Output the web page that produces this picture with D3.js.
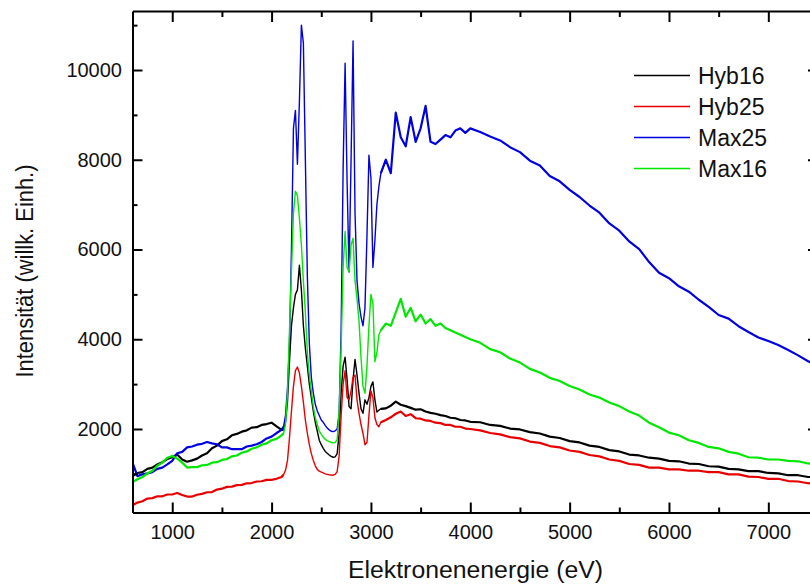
<!DOCTYPE html>
<html><head><meta charset="utf-8">
<script src="https://cdn.jsdelivr.net/npm/d3@7"></script>
<style>
body{margin:0;background:#fff}
svg{display:block}
text{font-family:Arial,"Liberation Sans",sans-serif;fill:#111}
</style>
</head><body>
<svg id="chart" width="810" height="586"></svg>
<script>
// Electron energy (eV)
const energy = [
 600,650,700,750,800,850,900,950,1000,1050,1100,1150,1200,1250,1300,1350,1400,1450,1500,1550,1600,1650,1700,1750,1800,1850,1900,1950,2000,2050,2100,
 2120,2140,2160,2180,2200,2220,2240,2260,2280,2300,2320,2340,2360,2380,2400,2420,2440,2460,2480,2500,2520,2540,2560,2580,2600,2620,2640,2660,2680,2700,2720,2740,2760,2780,2800,2820,2840,2860,2880,2900,2920,2940,2960,2980,3000,3020,3040,3060,3080,3100,
 3150,3200,3250,3300,3350,3400,3450,3500,3550,3600,3650,3700,3750,3800,3850,3900,3950,4000,
 4100,4200,4300,4400,4500,4600,4700,4800,4900,5000,5100,5200,5300,5400,5500,5600,5700,5800,5900,6000,6100,6200,6300,6400,6500,6600,6700,6800,6900,7000,7100,7200,7300,7400,7500
];
const hyb16 = [
 950,1020,1040,1110,1140,1210,1260,1330,1370,1430,1320,1270,1300,1340,1410,1460,1570,1630,1730,1770,1860,1890,1940,1970,2030,2040,2090,2110,2140,2060,1980,
 1980,2150,2600,3500,4300,4700,5000,5100,5650,5100,4300,3800,3400,3000,2700,2400,2150,1950,1750,1650,1570,1500,1460,1420,1390,1370,1380,1450,1900,2800,3400,3600,3100,2500,2450,3100,3550,3200,2800,2450,2350,2650,2550,2700,2950,3050,2650,2380,2420,2450,
 2460,2520,2610,2540,2510,2470,2430,2440,2390,2360,2340,2310,2290,2250,2240,2200,2190,2160,
 2150,2090,2070,2010,1990,1930,1900,1830,1800,1730,1700,1630,1600,1530,1500,1430,1410,1360,1340,1290,1280,1230,1220,1170,1160,1110,1100,1060,1060,1020,1010,970,970,930,930
];
const hyb25 = [
 300,360,390,450,460,500,500,540,540,575,530,495,495,535,555,590,595,650,670,710,715,750,755,790,795,830,835,865,865,890,930,
 980,1080,1300,1800,2400,2950,3300,3380,3250,2950,2600,2200,1900,1650,1450,1300,1180,1100,1060,1040,1020,1000,990,980,975,970,990,1050,1400,2300,3000,3300,2700,2650,2850,3150,3200,2650,2350,2100,1900,1650,1700,2300,2850,2700,2250,2100,2050,2150,
 2200,2260,2340,2390,2290,2330,2240,2230,2190,2180,2140,2130,2090,2090,2050,2050,2010,2000,
 1970,1910,1880,1820,1790,1720,1690,1620,1590,1520,1490,1420,1390,1320,1290,1220,1200,1140,1140,1100,1100,1070,1070,1040,1040,990,990,940,930,890,890,840,830,790,800
];
const max25 = [
 1250,950,990,1010,1040,1110,1140,1210,1290,1460,1490,1590,1610,1650,1670,1710,1680,1660,1590,1590,1550,1550,1550,1610,1630,1660,1710,1790,1830,1910,1980,
 2050,2300,2900,3900,6000,8700,9100,7900,9300,11000,10600,8000,5400,3900,3150,2800,2550,2400,2300,2200,2150,2080,2020,1980,1950,1940,1960,2000,2350,4200,7800,10150,7500,5500,8000,10650,6800,5300,4800,4500,4300,4700,6300,8100,7600,5600,6200,7000,7400,7700,
 8000,7700,9050,8500,8300,8950,8400,8700,9200,8400,8350,8450,8550,8500,8650,8700,8600,8700,
 8620,8520,8430,8280,8170,7980,7870,7640,7520,7330,7170,6980,6820,6580,6420,6180,6010,5720,5480,5360,5180,5060,4880,4720,4540,4460,4290,4160,4040,3960,3870,3760,3640,3510,3420
];
const max16 = [
 820,880,930,1010,1070,1180,1250,1360,1400,1340,1250,1140,1150,1150,1190,1200,1250,1260,1310,1330,1390,1410,1470,1500,1560,1590,1650,1680,1750,1780,1860,
 1900,2100,2800,4200,5500,6800,7300,7200,6700,6100,5300,4600,3700,3200,2850,2500,2250,2100,1950,1880,1820,1770,1740,1720,1700,1690,1700,1760,2400,3800,5600,6400,5600,5500,6100,6250,5300,4900,4400,3600,2950,2800,3400,4300,5000,4800,3500,3700,4100,4200,
 4350,4300,4600,4900,4500,4700,4400,4550,4350,4450,4300,4350,4250,4200,4150,4100,4050,4000,
 3920,3780,3710,3570,3480,3340,3260,3140,3070,2960,2880,2770,2700,2590,2510,2390,2300,2140,2040,1920,1860,1750,1690,1600,1570,1490,1450,1370,1360,1320,1320,1290,1280,1230,1240
];
const seriesNames = ["Hyb16","Hyb25","Max25","Max16"];
const seriesValues = [hyb16, hyb25, max25, max16];
const seriesColors = ["#000000","#e80000","#0000e0","#00e800"];
const xTicks = [1000,2000,3000,4000,5000,6000,7000];
const xMinorTicks = [1500,2500,3500,4500,5500,6500,7500];
const yTicks = [2000,4000,6000,8000,10000];
const yMinorTicks = [1000,3000,5000,7000,9000,11000];
const xTitle = "Elektronenenergie (eV)";
const yTitle = "Intensität (willk. Einh.)";

const svg = d3.select("#chart");
const L = 132.5, R = 818, T = 11, B = 512.5;
const x = d3.scaleLinear().domain([600, 7500]).range([L, R]);
const y = d3.scaleLinear().domain([139, 11315]).range([B, T]);

svg.append("defs").append("clipPath").attr("id","clip")
  .append("rect").attr("x",L).attr("y",T).attr("width",R-L).attr("height",B-T);

const line = d3.line().x(d => x(d[0])).y(d => y(d[1]));
const plot = svg.append("g").attr("clip-path","url(#clip)");
// noisy broad regions drawn slightly heavier, the sharp peak region thin
const pieces = [
  {lo: 600, hi: 2120, w: 2.2},
  {lo: 2100, hi: 3150, w: 1.4},
  {lo: 3100, hi: 7500, w: 2.2}
];
seriesValues.forEach((vals, i) => {
  const pts = energy.map((e, j) => [e, vals[j]]);
  pieces.forEach(p => {
    plot.append("path")
      .datum(pts.filter(d => d[0] >= p.lo && d[0] <= p.hi))
      .attr("fill","none")
      .attr("stroke", seriesColors[i])
      .attr("stroke-width", p.w)
      .attr("stroke-linejoin","round")
      .attr("d", line);
  });
});

function styleAxis(g, showDomain){
  g.selectAll(".tick line").attr("stroke","#000").attr("stroke-width",2);
  g.select(".domain").attr("stroke", showDomain ? "#000" : "none").attr("stroke-width",2);
  g.selectAll("text").attr("font-size","20px").attr("fill","#111")
   .attr("font-family",'Arial,"Liberation Sans",sans-serif');
}
// bottom
svg.append("g").attr("transform",`translate(0,${B})`)
  .call(d3.axisBottom(x).tickValues(xTicks).tickFormat(d3.format("d")).tickSizeInner(-10).tickSizeOuter(0).tickPadding(12))
  .call(g => styleAxis(g, true));
svg.append("g").attr("transform",`translate(0,${B})`)
  .call(d3.axisBottom(x).tickValues(xMinorTicks).tickFormat("").tickSizeInner(-5).tickSizeOuter(0))
  .call(g => styleAxis(g, false));
// top
svg.append("g").attr("transform",`translate(0,${T})`)
  .call(d3.axisTop(x).tickValues(xTicks).tickFormat("").tickSizeInner(-11).tickSizeOuter(0))
  .call(g => styleAxis(g, true));
svg.append("g").attr("transform",`translate(0,${T})`)
  .call(d3.axisTop(x).tickValues(xMinorTicks).tickFormat("").tickSizeInner(-6).tickSizeOuter(0))
  .call(g => styleAxis(g, false));
// left
svg.append("g").attr("transform",`translate(${L},0)`)
  .call(d3.axisLeft(y).tickValues(yTicks).tickFormat(d3.format("d")).tickSizeInner(-10).tickSizeOuter(0).tickPadding(10.5))
  .call(g => styleAxis(g, true));
svg.append("g").attr("transform",`translate(${L},0)`)
  .call(d3.axisLeft(y).tickValues(yMinorTicks).tickFormat("").tickSizeInner(-5).tickSizeOuter(0))
  .call(g => styleAxis(g, false));
// right
svg.append("g").attr("transform",`translate(${R},0)`)
  .call(d3.axisRight(y).tickValues(yTicks).tickFormat("").tickSizeInner(-10).tickSizeOuter(0))
  .call(g => styleAxis(g, true));
svg.append("g").attr("transform",`translate(${R},0)`)
  .call(d3.axisRight(y).tickValues(yMinorTicks).tickFormat("").tickSizeInner(-5).tickSizeOuter(0))
  .call(g => styleAxis(g, false));

// axis titles
svg.append("text").attr("x",475.5).attr("y",578).attr("text-anchor","middle")
  .attr("font-size","23px").attr("textLength",255).attr("lengthAdjust","spacingAndGlyphs")
  .text(xTitle);
svg.append("text").attr("transform","translate(33,271) rotate(-90)").attr("text-anchor","middle")
  .attr("font-size","23px").attr("textLength",213).attr("lengthAdjust","spacingAndGlyphs")
  .text(yTitle);

// legend
const legend = svg.append("g");
seriesNames.forEach((name, i) => {
  const ly = 75.5 + i * 31;
  legend.append("line").attr("x1",634).attr("x2",690).attr("y1",ly).attr("y2",ly)
    .attr("stroke", seriesColors[i]).attr("stroke-width",1.5);
  legend.append("text").attr("x",698).attr("y",ly + 8).attr("font-size","23px").text(name);
});
</script>
</body></html>
